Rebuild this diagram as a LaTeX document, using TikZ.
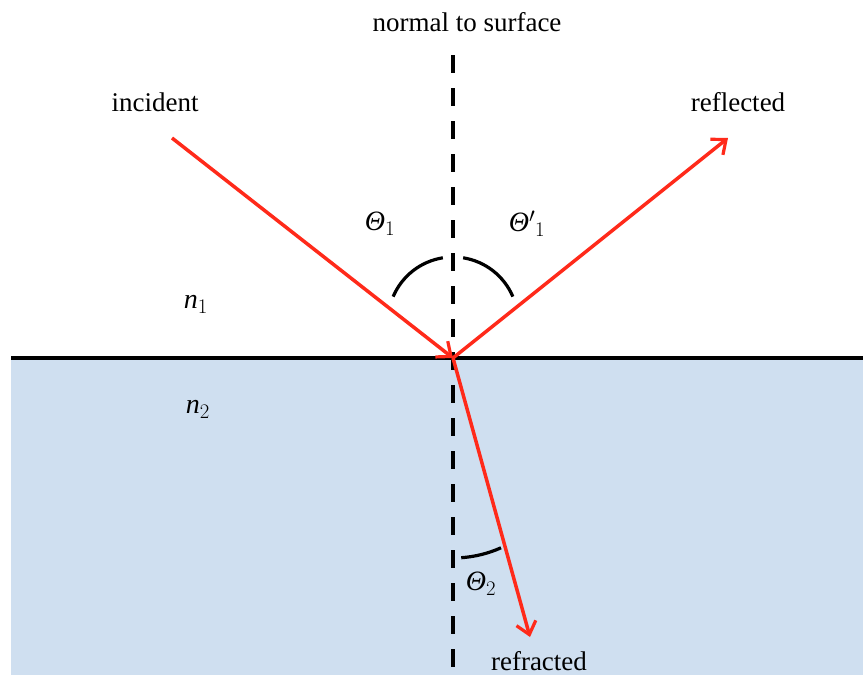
\documentclass[tikz,border=0pt]{standalone}
\usepackage{fontspec}
\setmainfont{Liberation Serif}
\usetikzlibrary{arrows.meta}
\definecolor{water}{HTML}{CFDFF0}
\definecolor{ray}{HTML}{FF2A1A}
\newcommand{\mytheta}{\textit{Θ}}
\tikzset{
  lbl/.style={font=\fontsize{27}{30}\selectfont, inner sep=0pt},
  sym/.style={font=\fontsize{28}{32}\selectfont, inner sep=0pt},
  raystyle/.style={draw=ray, line width=3.5pt, -{Straight Barb[length=12pt,width=20pt,line width=3.2pt]}},
  normalline/.style={line width=3.6pt, dash pattern=on 18pt off 15pt},
  anglearc/.style={line width=3.2pt},
}
\begin{document}
\begin{tikzpicture}[x=1pt,y=-1pt]
\useasboundingbox (0,0) rectangle (863,675);
\fill[water] (11,358) rectangle (863,675);
\coordinate (O) at (453,358);
\coordinate (ntop) at (453,55);
\coordinate (nbot) at (453,675);
\coordinate (sl) at (11,358);
\coordinate (sr) at (863,358);
\coordinate (inc) at (172,138);
\coordinate (refl) at (728,138);
\coordinate (refr) at (530,637);
\draw[normalline] (ntop) -- (nbot);
\draw[line width=3.6pt] (sl) -- (sr);
\draw[raystyle] (inc) -- (O);
\draw[raystyle] (O) -- (refl);
\draw[raystyle] (O) -- (refr);
\coordinate (ac) at (453,322);
\draw[anglearc] (ac) ++(-157:65) arc[start angle=-157, end angle=-99, radius=65];
\draw[anglearc] (ac) ++(-81:65) arc[start angle=-81, end angle=-23, radius=65];
\coordinate (bc) at (453,440);
\draw[anglearc] (bc) ++(86:118) arc[start angle=86, end angle=66, radius=118];
\node[lbl] (tnormal) at (467,22) {normal to surface};
\node[lbl] (tinc) at (155,102) {incident};
\node[lbl] (trefl) at (738,102) {reflected};
\node[lbl] (trefr) at (539,661) {refracted};
\node[sym] (th1) at (380,224) {\mytheta$_1$};
\node[sym] (th1p) at (527,224) {\mytheta$'{}_1$};
\node[sym] (th2) at (481,584) {\mytheta$_2$};
\node[sym] (n1) at (196,304) {\textit{n}$_1$};
\node[sym] (n2) at (198,409) {\textit{n}$_2$};
\end{tikzpicture}
\end{document}
